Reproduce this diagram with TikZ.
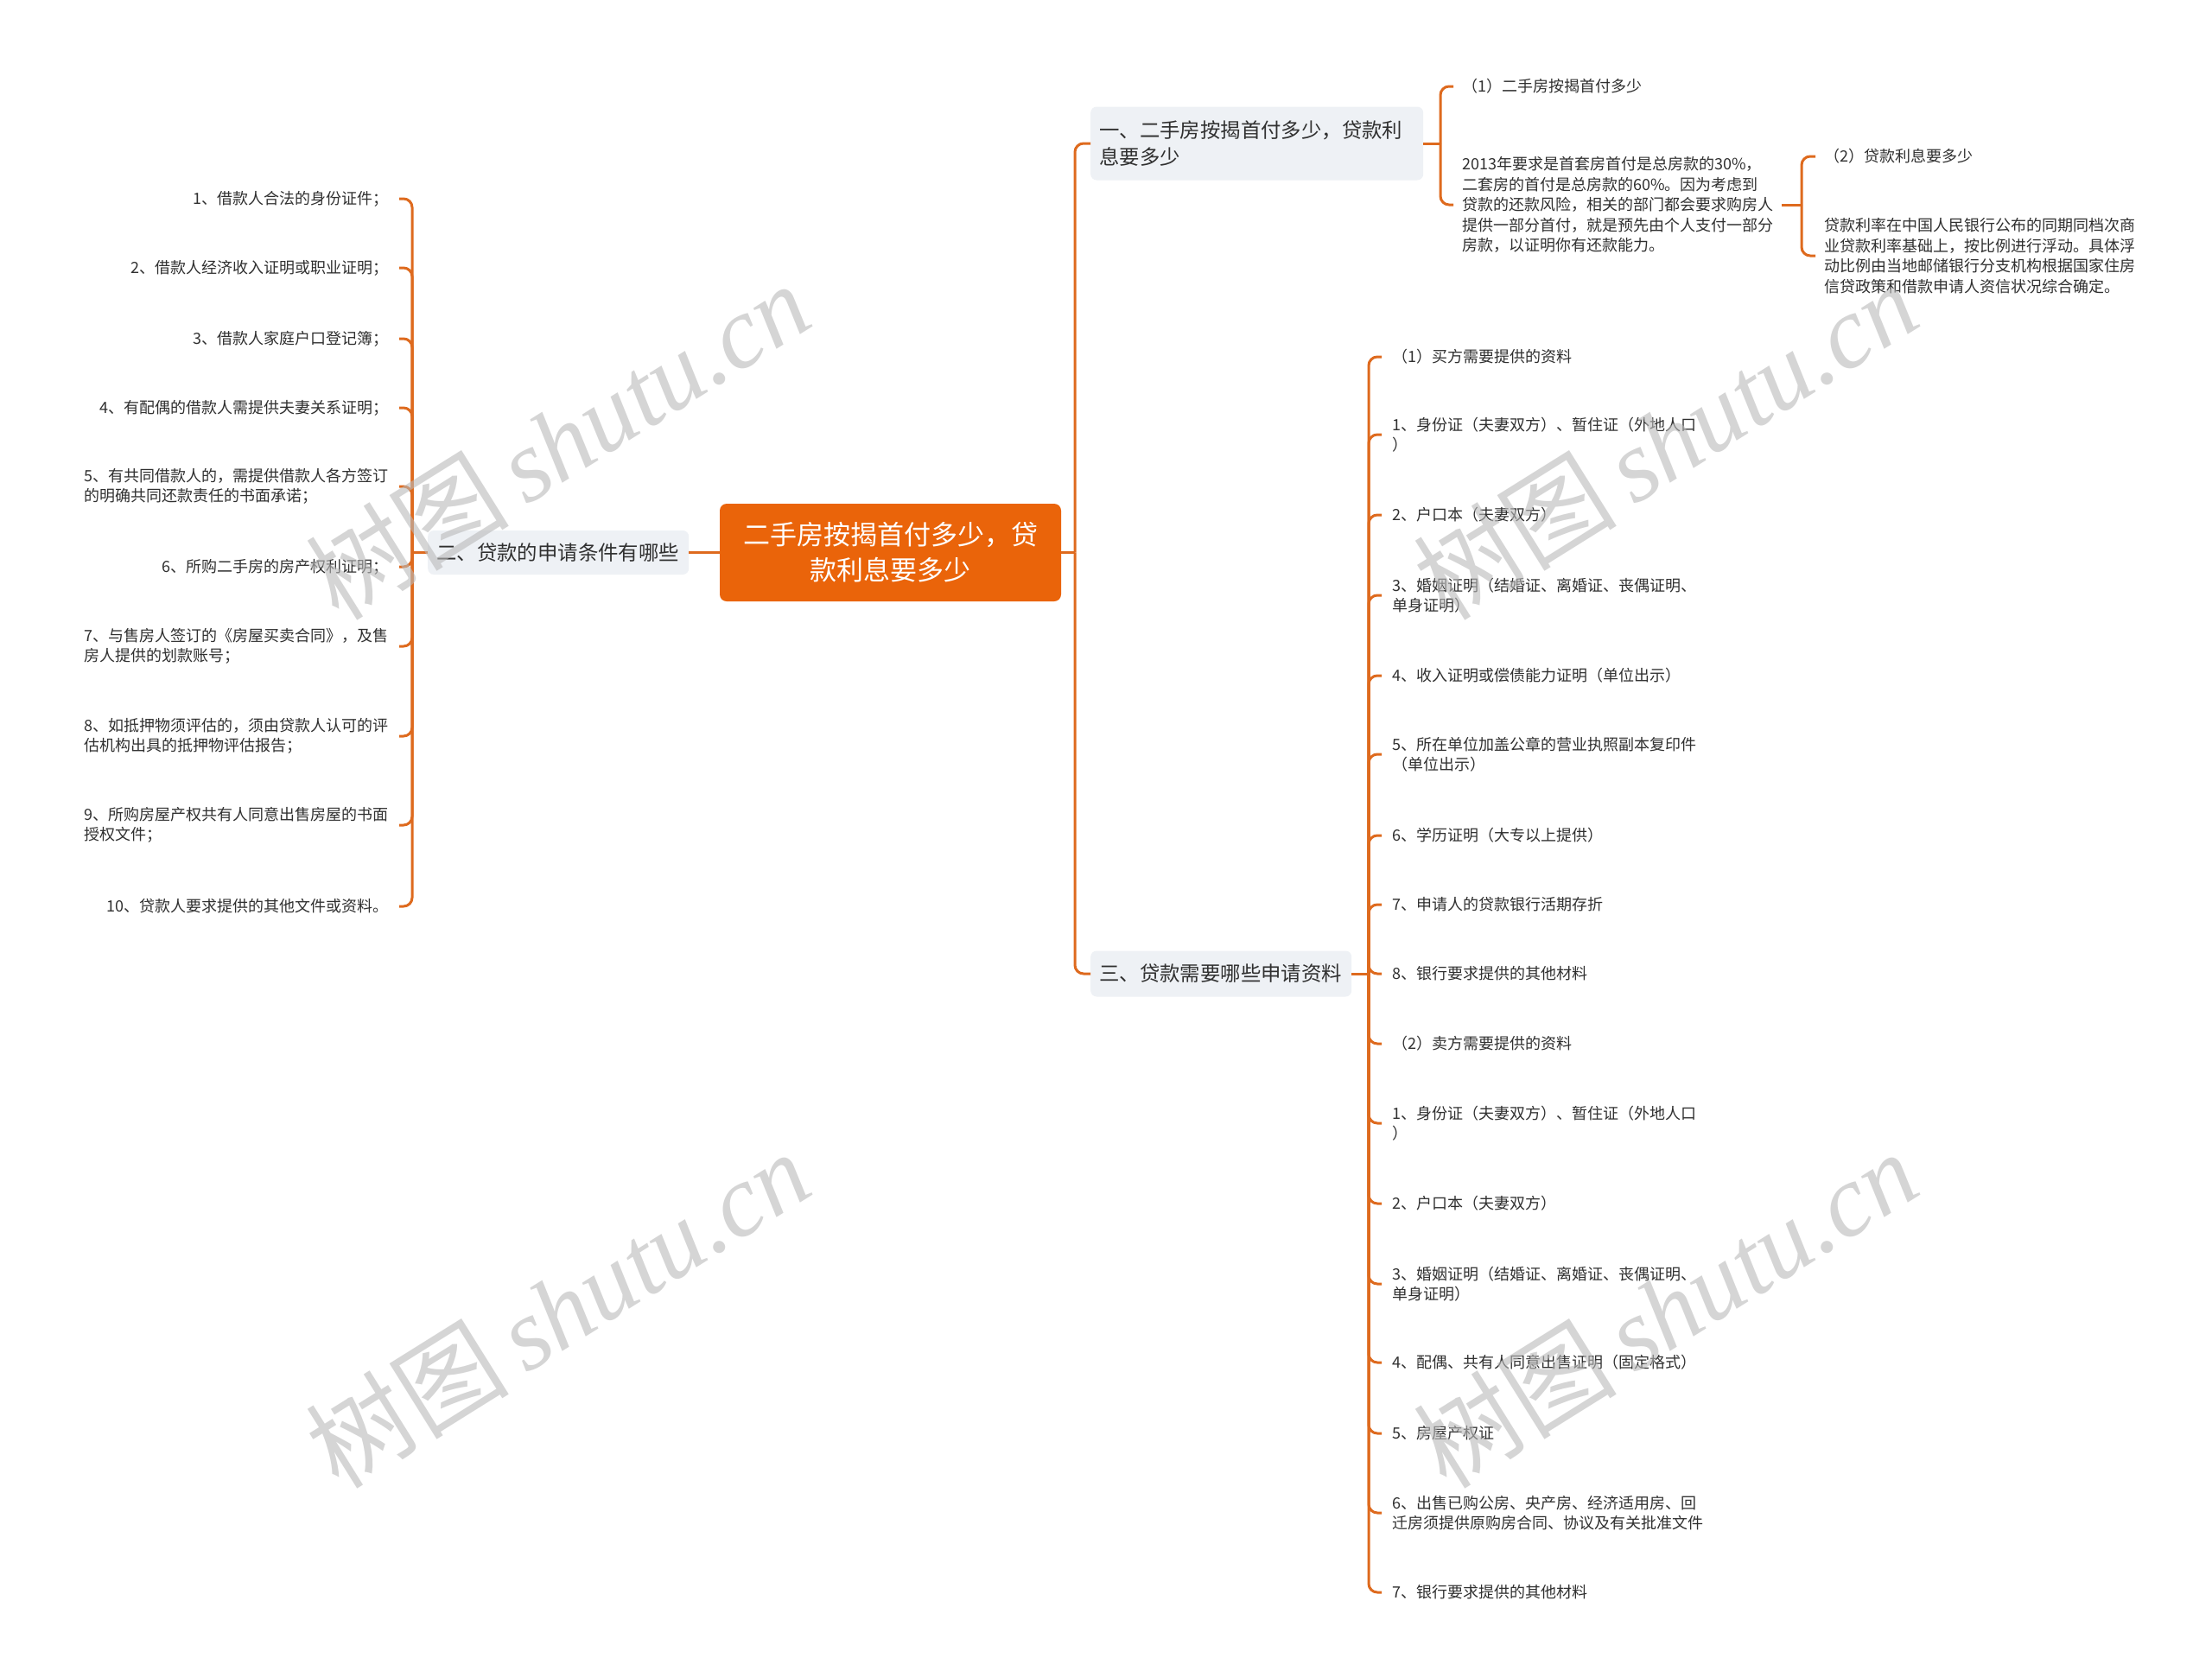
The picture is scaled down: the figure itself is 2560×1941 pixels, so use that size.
\documentclass[tikz,border=0pt]{standalone}
\usepackage{fontspec}
\setmainfont{Noto Sans CJK SC}
\newfontfamily\wmlatin{Liberation Serif}
\definecolor{lineC}{RGB}{222,106,30}
\definecolor{rootC}{RGB}{234,100,10}
\definecolor{branchC}{RGB}{238,241,245}
\definecolor{txtC}{RGB}{48,48,48}
\definecolor{wmC}{RGB}{185,185,185}
\newcommand\leaffont{\fontsize{18pt}{23.5pt}\selectfont}
\newcommand\branchfont{\fontsize{23.4pt}{31pt}\selectfont}
\newcommand\rootfont{\fontsize{31pt}{41pt}\selectfont}
\newcommand\wmfont{\fontsize{118pt}{120pt}\selectfont}
\tikzset{
  conn/.style={draw=lineC, line width=3pt},
  hook/.style={draw=lineC, line width=3pt, rounded corners=10pt},
  rootnode/.style={fill=rootC, rounded corners=8pt, text=white, font=\rootfont, align=center, minimum width=395pt, minimum height=113pt, inner sep=0pt},
  branch/.style={fill=branchC, rounded corners=7pt, text=txtC, font=\branchfont, align=left, inner xsep=10pt, anchor=west},
  leafR/.style={anchor=west, inner xsep=12pt, inner ysep=2pt, align=left, text=txtC, font=\leaffont},
  leafL/.style={anchor=east, inner xsep=12pt, inner ysep=2pt, align=left, text=txtC, font=\leaffont},
  wmark/.style={text=wmC, opacity=0.6, font=\wmfont, rotate=32, inner sep=0pt}
}
\begin{document}
\begin{tikzpicture}[x=1pt,y=-1pt]
\fill[white] (0,0) rectangle (2560,1941);
\useasboundingbox (0,0) rectangle (2560,1941);

% root and main branches
\node[rootnode] (root) at (1030.5,639.5) {二手房按揭首付多少，贷\\款利息要多少};
\node[branch, text width=282pt, minimum height=51pt] (b2) at (495,639.5) {二、贷款的申请条件有哪些};
\node[branch, text width=365pt, minimum height=85pt] (b1) at (1262,166) {一、二手房按揭首付多少，贷款利\\息要多少};
\node[branch, text width=282pt, minimum height=53pt] (b3) at (1262,1127) {三、贷款需要哪些申请资料};

\coordinate (jr) at (1244,639.5);
\draw[conn] (root.east) -- (jr);
\draw[hook] (jr) |- (b1.west);
\draw[hook] (jr) |- (b3.west);
\draw[conn] (b2.east) -- (root.west);

% left leaves
\node[leafL] (L1) at (462,230) {1、借款人合法的身份证件；};
\node[leafL] (L2) at (462,310) {2、借款人经济收入证明或职业证明；};
\node[leafL] (L3) at (462,392) {3、借款人家庭户口登记簿；};
\node[leafL] (L4) at (462,472) {4、有配偶的借款人需提供夫妻关系证明；};
\node[leafL] (L5) at (462,563) {5、有共同借款人的，需提供借款人各方签订\\的明确共同还款责任的书面承诺；};
\node[leafL] (L6) at (462,656) {6、所购二手房的房产权利证明；};
\node[leafL] (L7) at (462,748) {7、与售房人签订的《房屋买卖合同》，及售\\房人提供的划款账号；};
\node[leafL] (L8) at (462,852) {8、如抵押物须评估的，须由贷款人认可的评\\估机构出具的抵押物评估报告；};
\node[leafL] (L9) at (462,955) {9、所购房屋产权共有人同意出售房屋的书面\\授权文件；};
\node[leafL] (L10) at (462,1049) {10、贷款人要求提供的其他文件或资料。};

\coordinate (jl) at (477,639.5);
\draw[conn] (b2.west) -- (jl);
\foreach \n in {L1,L2,L3,L4,L5,L6,L7,L8,L9,L10}
  \draw[hook] (jl) |- (\n.east);

% branch 1 children
\node[leafR, inner xsep=10pt] (A1) at (1682,100) {（1）二手房按揭首付多少};
\node[leafR, inner xsep=10pt] (A2) at (1682,237) {2013年要求是首套房首付是总房款的30\%，\\二套房的首付是总房款的60\%。因为考虑到\\贷款的还款风险，相关的部门都会要求购房人\\提供一部分首付，就是预先由个人支付一部分\\房款，以证明你有还款能力。};
\coordinate (j1) at (1667,166);
\draw[conn] (b1.east) -- (j1);
\draw[hook] (j1) |- (A1.west);
\draw[hook] (j1) |- (A2.west);

\node[leafR, inner xsep=10pt] (A3) at (2101,181) {（2）贷款利息要多少};
\node[leafR, inner xsep=10pt] (A4) at (2101,296) {贷款利率在中国人民银行公布的同期同档次商\\业贷款利率基础上，按比例进行浮动。具体浮\\动比例由当地邮储银行分支机构根据国家住房\\信贷政策和借款申请人资信状况综合确定。};
\coordinate (j2) at (2085,237);
\draw[conn] (A2.east) -- (j2);
\draw[hook] (j2) |- (A3.west);
\draw[hook] (j2) |- (A4.west);

% branch 3 children
\node[leafR] (R1) at (1599,413) {（1）买方需要提供的资料};
\node[leafR] (R2) at (1599,503) {1、身份证（夫妻双方）、暂住证（外地人口\\）};
\node[leafR] (R3) at (1599,596) {2、户口本（夫妻双方）};
\node[leafR] (R4) at (1599,689) {3、婚姻证明（结婚证、离婚证、丧偶证明、\\单身证明）};
\node[leafR] (R5) at (1599,782) {4、收入证明或偿债能力证明（单位出示）};
\node[leafR] (R6) at (1599,873) {5、所在单位加盖公章的营业执照副本复印件\\（单位出示）};
\node[leafR] (R7) at (1599,967) {6、学历证明（大专以上提供）};
\node[leafR] (R8) at (1599,1047) {7、申请人的贷款银行活期存折};
\node[leafR] (R9) at (1599,1127) {8、银行要求提供的其他材料};
\node[leafR] (R10) at (1599,1208) {（2）卖方需要提供的资料};
\node[leafR] (R11) at (1599,1300) {1、身份证（夫妻双方）、暂住证（外地人口\\）};
\node[leafR] (R12) at (1599,1393) {2、户口本（夫妻双方）};
\node[leafR] (R13) at (1599,1486) {3、婚姻证明（结婚证、离婚证、丧偶证明、\\单身证明）};
\node[leafR] (R14) at (1599,1577) {4、配偶、共有人同意出售证明（固定格式）};
\node[leafR] (R15) at (1599,1659) {5、房屋产权证};
\node[leafR] (R16) at (1599,1751) {6、出售已购公房、央产房、经济适用房、回\\迁房须提供原购房合同、协议及有关批准文件};
\node[leafR] (R17) at (1599,1843) {7、银行要求提供的其他材料};

\coordinate (j3) at (1584,1127);
\draw[conn] (b3.east) -- (j3);
\foreach \n in {R1,R2,R3,R4,R5,R6,R7,R8,R9,R10,R11,R12,R13,R14,R15,R16,R17}
  \draw[hook] (j3) |- (\n.west);

% watermarks
\node[wmark] (wm1) at (645,510) {树图\,{\wmlatin\itshape shutu.cn}};
\node[wmark] (wm2) at (1927,510) {树图\,{\wmlatin\itshape shutu.cn}};
\node[wmark] (wm3) at (645,1515) {树图\,{\wmlatin\itshape shutu.cn}};
\node[wmark] (wm4) at (1927,1515) {树图\,{\wmlatin\itshape shutu.cn}};
\end{tikzpicture}
\end{document}
